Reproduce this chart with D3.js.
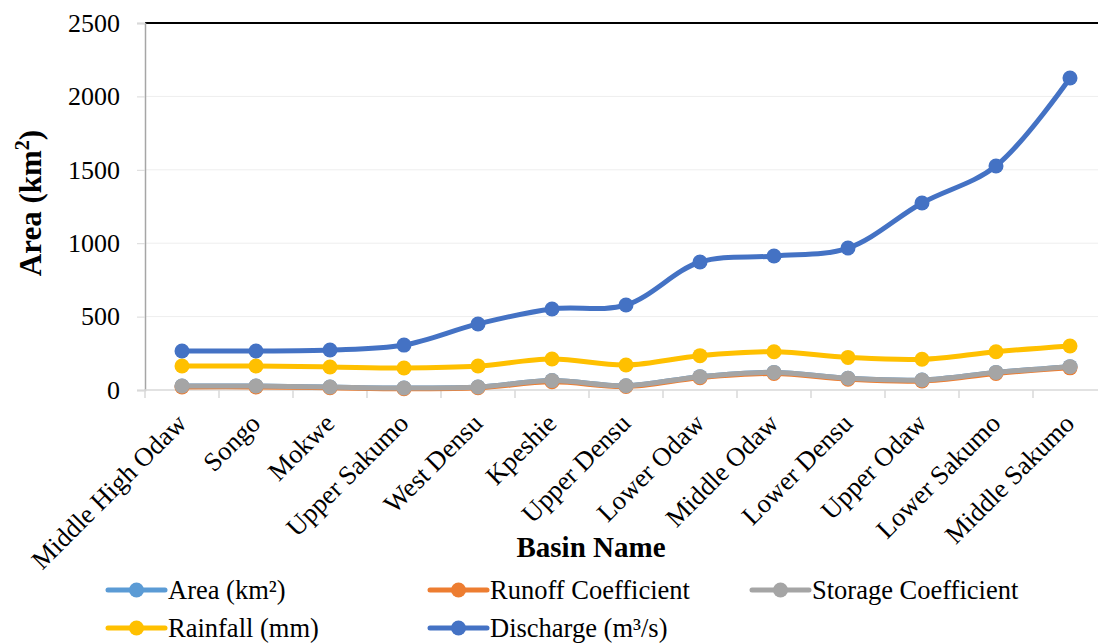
<!DOCTYPE html>
<html>
<head>
<meta charset="utf-8">
<script src="https://cdn.jsdelivr.net/npm/d3@7/dist/d3.min.js"></script>
<style>
  html, body { margin: 0; padding: 0; background: #fff; }
  svg { display: block; font-family: "Liberation Serif", "Times New Roman", serif; }
</style>
</head>
<body>
<svg id="chart" width="1098" height="644"></svg>
<script>
// Basin names along the x axis
const basins = ["Middle High Odaw", "Songo", "Mokwe", "Upper Sakumo", "West Densu", "Kpeshie",
  "Upper Densu", "Lower Odaw", "Middle Odaw", "Lower Densu", "Upper Odaw", "Lower Sakumo", "Middle Sakumo"];

// Series values per basin
const area      = [27, 27, 20, 14, 20, 64, 29, 91, 120, 80, 68, 120, 159];
const runoff    = [21, 21, 15, 9, 15, 56, 24, 84, 112, 73, 61, 113, 151];
const storage   = [27, 27, 20, 14, 20, 64, 29, 91, 120, 80, 68, 120, 159];
const rainfall  = [163, 163, 157, 150, 163, 211, 170, 234, 261, 222, 209, 261, 300];
const discharge = [266, 266, 272, 306, 450, 552, 579, 872, 913, 967, 1274, 1526, 2125];

const yTicks = [0, 500, 1000, 1500, 2000, 2500];

const seriesNames = ["Area (km\u00B2)", "Runoff Coefficient", "Storage Coefficient", "Rainfall (mm)", "Discharge (m\u00B3/s)"];
const seriesData = [area, runoff, storage, rainfall, discharge];
const seriesColors = ["#5B9BD5", "#ED7D31", "#A5A5A5", "#FFC000", "#4472C4"];

const svg = d3.select("#chart");

const x = d3.scaleBand().domain(basins).range([145, 1107]);
const y = d3.scaleLinear().domain([0, 2500]).range([390, 23]);

// horizontal gridlines
svg.append("g")
  .selectAll("line")
  .data(yTicks.filter(d => d > 0 && d < 2500))
  .join("line")
  .attr("x1", 145).attr("x2", 1098)
  .attr("y1", d => y(d)).attr("y2", d => y(d))
  .attr("stroke", "#EEEEEE").attr("stroke-width", 1);

// top border at the axis maximum
svg.append("line")
  .attr("x1", 145).attr("x2", 1098)
  .attr("y1", y(2500)).attr("y2", y(2500))
  .attr("stroke", "#000").attr("stroke-width", 2);

// y axis
const yAxis = svg.append("g")
  .attr("transform", "translate(145,0)")
  .call(d3.axisLeft(y).tickValues(yTicks).tickFormat(d3.format("d")).tickSize(8).tickPadding(17));
yAxis.select(".domain").attr("stroke", "#A6A6A6").attr("stroke-width", 1.5);
yAxis.selectAll(".tick line").attr("stroke", "#D9D9D9");
yAxis.selectAll("text").attr("font-size", 26).attr("fill", "#000")
  .attr("font-family", "Liberation Serif");

// x axis with ticks on band boundaries
const xAxis = svg.append("g").attr("transform", `translate(0,${y(0)})`);
xAxis.append("line").attr("x1", 145).attr("x2", 1098).attr("y1", 0).attr("y2", 0)
  .attr("stroke", "#D9D9D9").attr("stroke-width", 1.5);
xAxis.selectAll("line.tk")
  .data(basins)
  .join("line").attr("class", "tk")
  .attr("x1", d => x(d)).attr("x2", d => x(d))
  .attr("y1", 0).attr("y2", 8)
  .attr("stroke", "#D9D9D9").attr("stroke-width", 1.5);
xAxis.selectAll("text")
  .data(basins)
  .join("text")
  .attr("transform", d => `translate(${x(d) + x.bandwidth() / 2 + 6},${35}) rotate(-45)`)
  .attr("text-anchor", "end")
  .attr("font-size", 26.5)
  .attr("fill", "#000")
  .text(d => d);

// axis titles
const yTitle = svg.append("text")
  .attr("transform", "translate(41,203) rotate(-90)")
  .attr("text-anchor", "middle")
  .attr("font-size", 31).attr("font-weight", "bold");
yTitle.append("tspan").text("Area (km");
yTitle.append("tspan").attr("font-size", 20).attr("dy", -12).text("2");
yTitle.append("tspan").attr("dy", 12).text(")");

svg.append("text")
  .attr("x", 591).attr("y", 557)
  .attr("text-anchor", "middle")
  .attr("font-size", 29).attr("font-weight", "bold")
  .text("Basin Name");

// series lines and markers
const line = d3.line()
  .x((d, i) => x(basins[i]) + x.bandwidth() / 2)
  .y(d => y(d))
  .curve(d3.curveCatmullRom.alpha(0.5));

seriesData.forEach((vals, si) => {
  const g = svg.append("g");
  g.append("path")
    .datum(vals)
    .attr("d", line)
    .attr("fill", "none")
    .attr("stroke", seriesColors[si])
    .attr("stroke-width", 5)
    .attr("stroke-linecap", "round");
  g.selectAll("circle")
    .data(vals)
    .join("circle")
    .attr("cx", (d, i) => x(basins[i]) + x.bandwidth() / 2)
    .attr("cy", d => y(d))
    .attr("r", 7.5)
    .attr("fill", seriesColors[si]);
});

// legend
const legendPos = [[108, 590], [430, 590], [752, 590], [108, 628], [430, 628]];
seriesNames.forEach((name, i) => {
  const [lx, ly] = legendPos[i];
  const g = svg.append("g").attr("transform", `translate(${lx},${ly})`);
  g.append("line").attr("x1", 0).attr("x2", 57).attr("y1", 0).attr("y2", 0)
    .attr("stroke", seriesColors[i]).attr("stroke-width", 5).attr("stroke-linecap", "round");
  g.append("circle").attr("cx", 28.5).attr("cy", 0).attr("r", 7.5).attr("fill", seriesColors[i]);
  g.append("text").attr("x", 60).attr("y", 0).attr("dy", "0.35em")
    .attr("font-size", 26.5).attr("fill", "#000").text(name);
});
</script>
</body>
</html>
